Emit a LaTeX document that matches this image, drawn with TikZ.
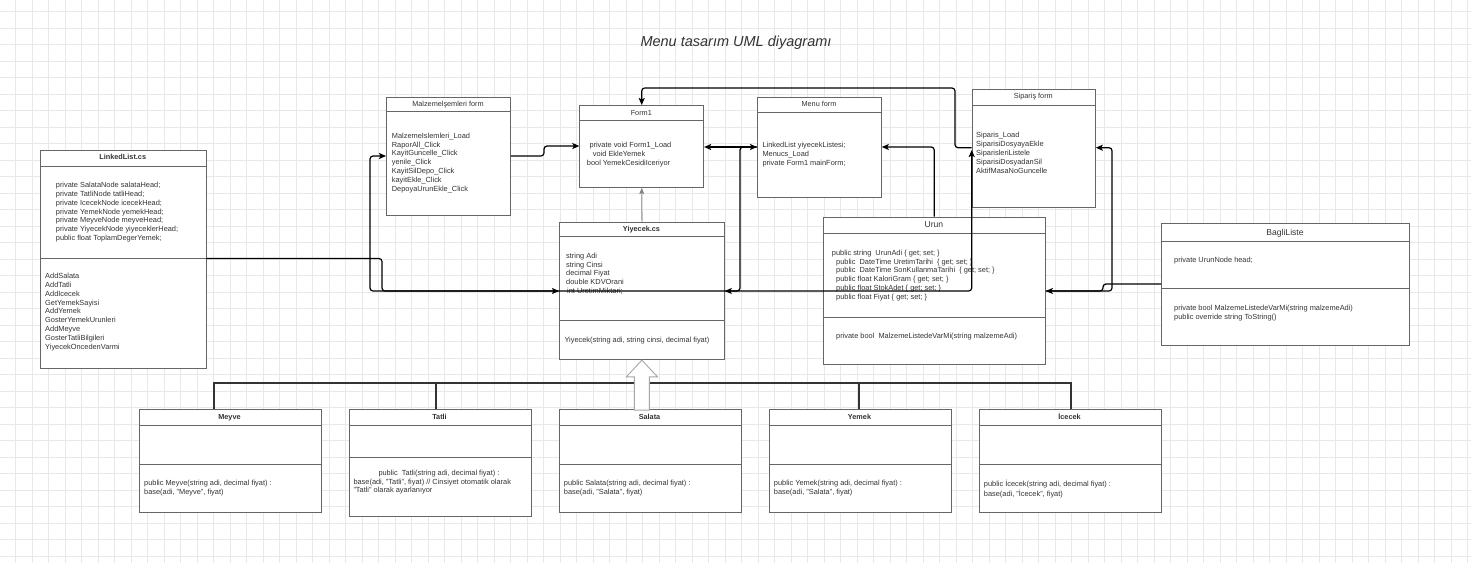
\documentclass[tikz,border=0pt]{standalone}
\usepackage{fontspec}
\setmainfont{Liberation Sans}
\usetikzlibrary{arrows.meta,calc}
\definecolor{txt}{HTML}{333333}
\definecolor{boxc}{HTML}{666666}
\definecolor{gridc}{HTML}{E8E8E8}
\definecolor{grayarr}{HTML}{808080}
\definecolor{blockc}{HTML}{A6A6A6}
\newcommand{\UBox}[6]{%
  \node[umlbox, minimum width=#4pt, minimum height=#5pt] (#1) at (#2,#3) {};
  \draw[boxline] ([yshift=-#6pt]#1.north west) -- ([yshift=-#6pt]#1.north east);}
\newcommand{\USep}[2]{%
  \draw[boxline] ([yshift=-#2pt]#1.north west) -- ([yshift=-#2pt]#1.north east);}
\begin{document}
\begin{tikzpicture}[x=1pt,y=-1pt,
  gridline/.style={draw=gridc, line width=0.6pt},
  umlbox/.style={draw=boxc, fill=white, line width=0.8pt, inner sep=0pt, anchor=north west},
  boxline/.style={draw=boxc, line width=0.8pt},
  mtext/.style={font=\fontsize{7.4}{8.8}\selectfont, text=txt, align=left, inner sep=0pt, anchor=north west},
  ttl/.style={font=\fontsize{7.3}{8.8}\selectfont, text=txt, inner sep=0pt, anchor=base},
  bttl/.style={font=\fontsize{7.3}{8.8}\selectfont\bfseries, text=txt, inner sep=0pt, anchor=base},
  bigttl/.style={font=\fontsize{8.6}{10}\selectfont, text=txt, inner sep=0pt, anchor=base},
  conn/.style={draw=black, line width=1.2pt, rounded corners=3pt, -{Stealth[length=7pt,width=6pt,inset=1.5pt]}},
  conntwo/.style={draw=black, line width=1.2pt, rounded corners=3pt, {Stealth[length=7pt,width=6pt,inset=1.5pt]}-{Stealth[length=7pt,width=6pt,inset=1.5pt]}},
  gconn/.style={draw=grayarr, line width=0.8pt, -{Stealth[length=6pt,width=5pt,inset=1.2pt]}},
  bus/.style={draw=txt, line width=1.3pt},
  barrow/.style={draw=blockc, fill=white, line width=0.9pt, line join=miter}
]
\useasboundingbox (0,0) rectangle (1471,563);
\fill[white] (0,0) rectangle (1471,563);
\foreach \k in {0,...,88} {\draw[gridline] ({15.3+16.5*\k},0) -- ({15.3+16.5*\k},563);}
\foreach \k in {0,...,33} {\draw[gridline] (0,{11.3+16.5*\k}) -- (1471,{11.3+16.5*\k});}

% title
\node[font=\fontsize{14.5}{17}\selectfont\itshape, text=txt, inner sep=0pt, anchor=base] (title) at (736,46) {Menu tasarım UML diyagramı};

% LinkedList.cs
\UBox{ll}{40}{150}{165.5}{217.7}{16}
\USep{ll}{108}
\node[bttl] (llt) at (122.75,159.6) {LinkedList.cs};
\node[mtext] (llf) at (55.7,181.3) {\strut private SalataNode salataHead;\\private TatliNode tatliHead;\\private IcecekNode icecekHead;\\private YemekNode yemekHead;\\private MeyveNode meyveHead;\\private YiyecekNode yiyeceklerHead;\\public float ToplamDegerYemek;};
\node[mtext] (llm) at (45,272.3) {\strut AddSalata\\AddTatli\\AddIcecek\\GetYemekSayisi\\AddYemek\\GosterYemekUrunleri\\AddMeyve\\GosterTatliBilgileri\\YiyecekOncedenVarmi};

% Malzeme form
\UBox{mz}{386}{96.7}{124}{118.3}{14.3}
\node[ttl] (mzt) at (448,106.6) {Malzemelşemleri form};
\node[mtext] (mzf) at (391.7,132) {\strut MalzemeIslemleri\_Load\\RaporAll\_Click\\KayitGuncelle\_Click\\yenile\_Click\\KayitSilDepo\_Click\\kayitEkle\_Click\\DepoyaUrunEkle\_Click};

% Form1
\UBox{fo}{579.3}{105}{124}{82.3}{15}
\node[ttl] (fot) at (641.3,115) {Form1};
\node[mtext] (fof) at (586.7,141.3) {\strut\hspace*{2.6pt}private void Form1\_Load\\\hspace*{6pt}void EkleYemek\\bool YemekCesidiIceriyor};

% Yiyecek.cs
\UBox{yi}{559}{221.7}{165}{137.6}{15}
\USep{yi}{98.3}
\node[bttl] (yit) at (641.5,231.6) {Yiyecek.cs};
\node[mtext] (yif) at (566,252) {\strut string Adi\\string Cinsi\\decimal Fiyat\\double KDVOrani\\\hspace*{1pt}int UretimMiktari;};
\node[mtext] (yim) at (564.3,336.3) {\strut Yiyecek(string adi, string cinsi, decimal fiyat)};

% Menu form
\UBox{mf}{757}{96.7}{124}{100}{16}
\node[ttl] (mft) at (819,106.4) {Menu form};
\node[mtext] (mff) at (762.3,141.3) {\strut LinkedList yiyecekListesi;\\Menucs\_Load\\private Form1 mainForm;};

% Siparis form
\UBox{sp}{971.7}{88.7}{123.3}{118.3}{16.6}
\node[ttl] (spt) at (1033.3,98.6) {Sipariş form};
\node[mtext] (spf) at (976,131.6) {\strut Siparis\_Load\\SiparisiDosyayaEkle\\SiparisleriListele\\SiparisiDosyadanSil\\AktifMasaNoGuncelle};

% Urun
\UBox{ur}{822.7}{216.7}{222.3}{147.6}{16.6}
\USep{ur}{100.6}
\node[bigttl] (urt) at (933.9,227.4) {Urun};
\node[mtext] (urf) at (831.7,249) {\strut public string\ \ UrunAdi \{ get; set; \}\\\hspace*{4.3pt}public\ \ DateTime UretimTarihi\ \ \{ get; set; \}\\\hspace*{4.3pt}public\ \ DateTime SonKullanmaTarihi\ \ \{ get; set; \}\\\hspace*{4.3pt}public float KaloriGram \{ get; set; \}\\\hspace*{4.3pt}public float StokAdet \{ get; set; \}\\\hspace*{4.3pt}public float Fiyat \{ get; set; \}};
\node[mtext] (urm) at (836,332) {\strut private bool\ \ MalzemeListedeVarMi(string malzemeAdi)};

% BagliListe
\UBox{bl}{1161}{223}{248}{121.7}{18.3}
\USep{bl}{65.7}
\node[bigttl] (blt) at (1285,235.1) {BagliListe};
\node[mtext] (blf) at (1174,256.6) {\strut private UrunNode head;};
\node[mtext] (blm) at (1174,304.3) {\strut private bool MalzemeListedeVarMi(string malzemeAdi)\\public override string ToString()};

% bottom classes
\UBox{me}{138.5}{409.3}{182}{103}{15.7}
\USep{me}{55}
\node[bttl] (met) at (229.5,419.3) {Meyve};
\node[mtext] (mem) at (144,479.6) {\strut public Meyve(string adi, decimal fiyat) :\\base(adi, "Meyve", fiyat)};

\UBox{ta}{348.5}{409.3}{182}{107}{15.7}
\USep{ta}{48.4}
\node[bttl] (tat) at (439.5,419.3) {Tatli};
\node[mtext] (tam) at (353.3,469) {\strut\hspace*{25pt}public\ \ Tatli(string adi, decimal fiyat) :\\base(adi, "Tatli", fiyat) // Cinsiyet otomatik olarak\\"Tatli" olarak ayarlanıyor};

\UBox{sa}{558.5}{409.3}{182}{103}{15.7}
\USep{sa}{55}
\node[bttl] (sat) at (649.5,419.3) {Salata};
\node[mtext] (sam) at (563.7,479.6) {\strut public Salata(string adi, decimal fiyat) :\\base(adi, "Salata", fiyat)};

\UBox{ye}{768.5}{409.3}{182}{103}{15.7}
\USep{ye}{55}
\node[bttl] (yet) at (859.5,419.3) {Yemek};
\node[mtext] (yem) at (773.7,479.6) {\strut public Yemek(string adi, decimal fiyat) :\\base(adi, "Salata", fiyat)};

\UBox{ic}{978.5}{409.3}{182}{103}{15.7}
\USep{ic}{55}
\node[bttl] (ict) at (1069.5,419.3) {İcecek};
\node[mtext] (icm) at (983.7,479.6) {\strut public İcecek(string adi, decimal fiyat) :\\base(adi, "İcecek", fiyat)};

% inheritance bus
\draw[bus] ([xshift=75.5pt]me.north west) |- (1071,383) -- ([xshift=92.5pt]ic.north west);
\draw[bus] ([xshift=87.5pt]ta.north west) -- +(0,-26.3);
\draw[bus] ([xshift=90.5pt]ye.north west) -- +(0,-26.3);
% hollow block arrow Salata -> Yiyecek
\draw[barrow] (yi.south) -- ++(15.5,16.7) -- ++(-8,0) -- ++(0,33.3) -- ++(-15,0) -- ++(0,-33.3) -- ++(-8,0) -- cycle;

% connectors
\draw[gconn] (yi.north) -- (fo.south);
\draw[conn] ([yshift=-108.5pt]ll.north east) -| (382,291) -- ([yshift=-69.3pt]yi.north west);
\draw[conn] ([yshift=-50.3pt]mf.north west) -- (740,147) |- (370,291) |- ([yshift=-59.3pt]mz.north west);
\draw[conntwo] ([yshift=-42pt]fo.north east) -- ([yshift=-50.3pt]mf.north west);
\draw[conntwo] ([yshift=-69.3pt]yi.north east) -- (971.7,291) -- ([yshift=-61.3pt]sp.north west);
\draw[conn] ([yshift=-59.3pt]mz.north east) -- (544,156) |- ([yshift=-41pt]fo.north west);
\draw[conn] ([yshift=-59pt]sp.north west) -| (955,88) -| (fo.north);
\draw[conn] (ur.north) |- ([yshift=-50.3pt]mf.north east);
\draw[conn] ([yshift=-61pt]bl.north west) -| (1103,291) -- ([yshift=-74.3pt]ur.north east);
\draw[conn] ([yshift=-74.3pt]ur.north east) -- (1112,291) |- ([yshift=-59pt]sp.north east);
\end{tikzpicture}
\end{document}
